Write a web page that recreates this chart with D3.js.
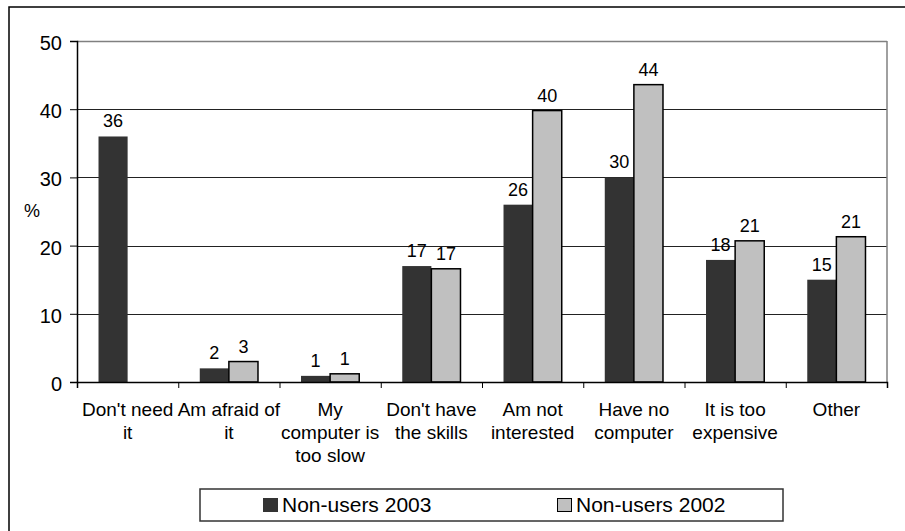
<!DOCTYPE html>
<html><head><meta charset="utf-8">
<script src="https://cdn.jsdelivr.net/npm/d3@7"></script>
<style>body{margin:0;background:#fff}svg{display:block;font-family:"Liberation Sans",Arial,sans-serif}</style>
</head><body><svg id="c" width="905" height="531"></svg>
<script>
const categories = [["Don't need","it"],["Am afraid of","it"],["My","computer is","too slow"],["Don't have","the skills"],["Am not","interested"],["Have no","computer"],["It is too","expensive"],["Other"]];
const seriesNames = ["Non-users 2003","Non-users 2002"];
const values2003 = [36, 2, 0.9, 17, 26, 30, 17.9, 15];
const values2002 = [null, 3, 1.2, 16.6, 39.8, 43.6, 20.7, 21.3];
const labels2003 = ["36","2","1","17","26","30","18","15"];
const labels2002 = ["","3","1","17","40","44","21","21"];
const yTicks = [0,10,20,30,40,50];

const svg = d3.select("#c");
const L=77,R=887,T=41,B=382;
const catKeys = categories.map((c,i)=>i);
const x0 = d3.scaleBand().domain(catKeys).range([L,R]);
const bw = x0.bandwidth();
const x1 = d3.scaleBand().domain([0,1]).range([bw*0.2125, bw*0.7875]);
const y = d3.scaleLinear().domain([0,50]).range([B,T]);
const colors = ["#333333","#c0c0c0"];

// outer frame (cropped)
svg.append("path").attr("d","M9,540V7H915").attr("fill","none").attr("stroke","#000").attr("stroke-width",1.5);

// gridlines
svg.append("g").selectAll("line").data(yTicks.filter(d=>d>0)).join("line")
  .attr("x1",L).attr("x2",R).attr("y1",d=>Math.round(y(d))+0.5).attr("y2",d=>Math.round(y(d))+0.5)
  .attr("stroke",d=>d===50?"#808080":"#222").attr("stroke-width",d=>d===50?1.5:1);
// plot right border
svg.append("line").attr("x1",R).attr("x2",R).attr("y1",T).attr("y2",B).attr("stroke","#808080").attr("stroke-width",1.5);

// bars
const data = catKeys.map(i=>[{s:0,v:values2003[i],l:labels2003[i]},{s:1,v:values2002[i],l:labels2002[i]}]);
const g = svg.append("g").selectAll("g").data(data).join("g").attr("transform",(d,i)=>`translate(${x0(i)},0)`);
g.selectAll("rect").data(d=>d.filter(e=>e.v!=null)).join("rect")
  .attr("x",d=>x1(d.s)).attr("width",x1.bandwidth())
  .attr("y",d=>y(d.v)).attr("height",d=>B-y(d.v))
  .attr("fill",d=>colors[d.s]).attr("stroke",d=>d.s===1?"#000":"none").attr("stroke-width",1.5);
g.selectAll("text").data(d=>d.filter(e=>e.v!=null)).join("text")
  .attr("x",d=>x1(d.s)+x1.bandwidth()/2).attr("y",d=>y(d.v)-9)
  .attr("text-anchor","middle").attr("font-size",18).attr("fill","#000").text(d=>d.l);

// y axis
const ya = svg.append("g").attr("transform",`translate(${L},0)`)
  .call(d3.axisLeft(y).tickValues(yTicks).tickSize(7).tickPadding(8).tickFormat(d3.format("d")));
ya.select(".domain").attr("stroke","#000").attr("stroke-width",1.5);
ya.selectAll(".tick line").attr("stroke","#000");
ya.selectAll(".tick text").attr("font-size",20).attr("font-family","Liberation Sans, Arial, sans-serif").attr("fill","#000").attr("dy","0.42em");

// x axis with boundary ticks
const xl = d3.scaleLinear().domain([0,categories.length]).range([L,R]);
const xa = svg.append("g").attr("transform",`translate(0,${B})`)
  .call(d3.axisBottom(xl).tickValues(d3.range(categories.length+1)).tickSize(6).tickSizeOuter(6).tickFormat(""));
xa.select(".domain").attr("stroke","#000").attr("stroke-width",1.5);
xa.selectAll(".tick line").attr("stroke","#000");

// category labels
const cl = svg.append("g").selectAll("text").data(categories).join("text")
  .attr("x",(d,i)=>x0(i)+bw/2).attr("y",416).attr("text-anchor","middle").attr("font-size",19).attr("fill","#000");
cl.selectAll("tspan").data(d=>d).join("tspan").attr("x",function(){return this.parentNode.getAttribute("x");})
  .attr("dy",(d,i)=>i===0?0:23).text(d=>d);

// y title
svg.append("text").attr("x",32).attr("y",217).attr("text-anchor","middle").attr("font-size",18).text("%");

// legend
svg.append("rect").attr("x",200).attr("y",489).attr("width",583).attr("height",32).attr("fill","#fff").attr("stroke","#333").attr("stroke-width",1.5);
const lx = [263,557];
const lg = svg.append("g").selectAll("g").data(seriesNames).join("g");
lg.append("rect").attr("x",(d,i)=>lx[i]+0.5).attr("y",498.5).attr("width",14).attr("height",13)
  .attr("fill",(d,i)=>colors[i]).attr("stroke",(d,i)=>i===1?"#000":colors[0]).attr("stroke-width",1);
lg.append("text").attr("x",(d,i)=>lx[i]+19).attr("y",512).attr("font-size",21).attr("fill","#000").text(d=>d);
</script></body></html>
